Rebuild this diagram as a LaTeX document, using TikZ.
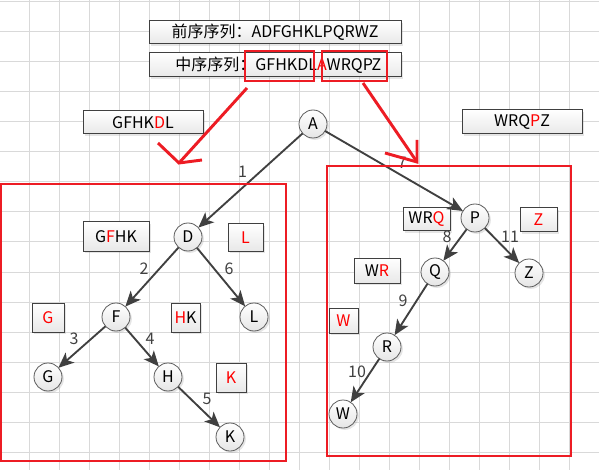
\documentclass[tikz,border=0pt]{standalone}
\usepackage{fontspec}
\setmainfont{Noto Sans CJK SC}
\usetikzlibrary{arrows.meta,shadows}
\definecolor{tred}{HTML}{ED1C24}
\definecolor{tline}{HTML}{404040}
\definecolor{tgrid}{HTML}{D9D9D9}
\newcommand{\figfont}{\fontsize{12}{14}\selectfont}
\newcommand{\rd}[1]{\textcolor{red}{#1}}

\begin{document}
\begin{tikzpicture}[x=0.75pt, y=-0.75pt,
  every node/.style={font=\figfont},
  tnode/.style={circle, draw=tline!85, line width=0.6pt, minimum size=21pt, inner sep=0pt, outer sep=0pt,
    top color=white, bottom color=black!10, drop shadow={shadow xshift=1.4pt, shadow yshift=-1.4pt, opacity=0.2}},
  lbox/.style={draw=tline, line width=0.75pt, inner sep=0pt,
    top color=white, bottom color=black!9, drop shadow={shadow xshift=1.5pt, shadow yshift=-1.5pt, opacity=0.2}},
  subbox/.style={draw=tred, line width=2.2pt, inner sep=0pt},
  arrow/.style={-{Stealth[length=11.5pt, width=10pt, inset=3pt]}, line width=1.4pt, tline},
  lblL/.style={midway, xshift=-6pt, yshift=6.4pt, inner sep=0pt},
  lblR/.style={midway, xshift=6pt, yshift=6.4pt, inner sep=0pt},
  redline/.style={tred, line width=2.2pt},
]
\useasboundingbox (0,0) rectangle (599,470);
\fill[white] (0,0) rectangle (599,470);

% Grid
\foreach \gx in {0,...,18}
  \draw[tgrid, line width=0.75pt] (29.5+30*\gx,0) -- (29.5+30*\gx,470);
\foreach \gy in {0,...,15}
  \draw[tgrid, line width=0.75pt] (0,2+30*\gy) -- (599,2+30*\gy);

% Sequences
\node[lbox, minimum width=189pt, minimum height=17.25pt] (pre) at (275,32.5) {前序序列：ADFGHKLPQRWZ};
\node[lbox, minimum width=189pt, minimum height=18pt] (ino) at (275,65) {\hspace*{5pt}中序序列：GFHKDL\rd{A}WRQPZ};
\node[subbox, minimum width=51.75pt, minimum height=22.5pt] (lsub) at (279.5,66) {};
\node[subbox, minimum width=48.75pt, minimum height=22.5pt] (rsub) at (354.5,66) {};

% Subsequence boxes
\node[lbox, minimum width=90pt, minimum height=17.25pt] (sA1) at (143,122.5) {GFHK\rd{D}L};
\node[lbox, minimum width=90pt, minimum height=18pt] (sA2) at (522,122) {WRQ\rd{P}Z};
\node[lbox, minimum width=49.5pt, minimum height=21.75pt] (sD1) at (116,236.5) {G\rd{F}HK};
\node[lbox, minimum width=26.25pt, minimum height=20.25pt] (sD2) at (245.5,237.5) {\rd{L}};
\node[lbox, minimum width=24pt, minimum height=21.75pt] (sF1) at (48,317.5) {\rd{G}};
\node[lbox, minimum width=21.75pt, minimum height=21.75pt] (sF2) at (185.5,317.5) {\rd{H}K};
\node[lbox, minimum width=22.5pt, minimum height=21.75pt] (sH2) at (231,377.5) {\rd{K}};
\node[lbox, minimum width=35.25pt, minimum height=17.25pt] (sP1) at (426.5,219.5) {WR\rd{Q}};
\node[lbox, minimum width=27.75pt, minimum height=18pt] (sP2) at (538.5,220) {\rd{Z}};
\node[lbox, minimum width=34.5pt, minimum height=18.75pt] (sQ1) at (377,270.5) {W\rd{R}};
\node[lbox, minimum width=21.75pt, minimum height=18.75pt] (sR1) at (343.5,320.5) {\rd{W}};

% Tree nodes
\node[tnode] (A) at (313,124) {A};
\node[tnode] (D) at (188,237) {D};
\node[tnode] (L) at (254,317) {L};
\node[tnode] (F) at (116,317) {F};
\node[tnode] (G) at (48,377) {G};
\node[tnode] (H) at (168,377) {H};
\node[tnode] (K) at (230,437) {K};
\node[tnode] (P) at (475,218) {P};
\node[tnode] (Q) at (435,272) {Q};
\node[tnode] (Z) at (529,273) {Z};
\node[tnode] (R) at (387,347) {R};
\node[tnode] (W) at (343,414) {W};

% Edges in the order they are found
\draw[arrow] (A) -- node[lblL] {1} (D);
\draw[arrow] (D) -- node[lblL] {2} (F);
\draw[arrow] (F) -- node[lblL] {3} (G);
\draw[arrow] (F) -- node[lblR] {4} (H);
\draw[arrow] (H) -- node[lblR] {5} (K);
\draw[arrow] (D) -- node[lblR] {6} (L);
\draw[arrow] (A) -- node[lblR] {7} (P);
\draw[arrow] (P) -- node[lblL] {8} (Q);
\draw[arrow] (Q) -- node[lblL] {9} (R);
\draw[arrow] (R) -- node[lblL] {10} (W);
\draw[arrow] (P) -- node[lblR] {11} (Z);

% Subtree frames
\draw[redline] (1,184) rectangle (286,461);
\draw[redline] (327,166) rectangle (571,456);

% Red pointers
\coordinate (lfrom) at (247,88);
\coordinate (lto) at (179,163);
\coordinate (lw1) at (158,143);
\coordinate (lw2) at (202,160);
\coordinate (rfrom) at (363,83);
\coordinate (rto) at (417,162);
\coordinate (rw1) at (417,140);
\coordinate (rw2) at (385,153);
\draw[redline] (lfrom) -- (lto);
\draw[redline] (lw1) -- (lto) -- (lw2);
\draw[redline] (rfrom) -- (rto);
\draw[redline] (rw1) -- (rto) -- (rw2);

\end{tikzpicture}
\end{document}
